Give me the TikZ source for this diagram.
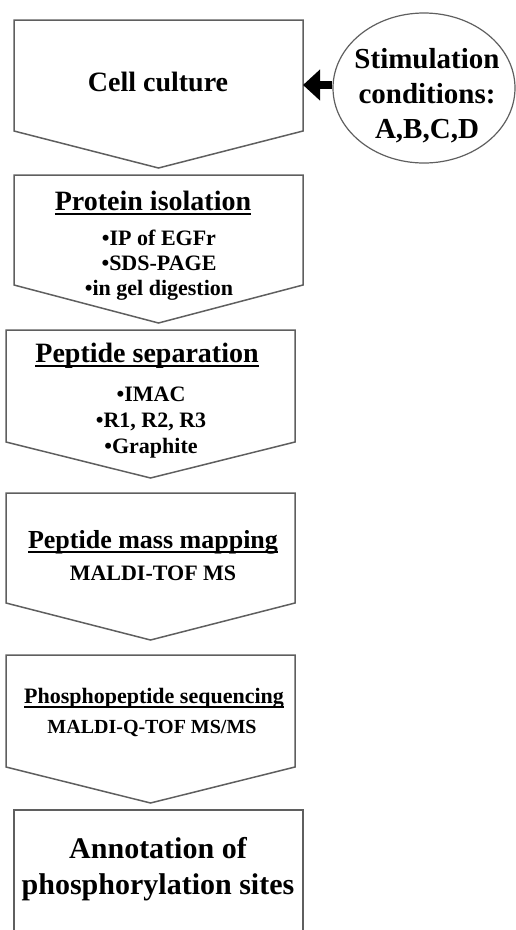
\documentclass[tikz,border=0pt]{standalone}
\usepackage{fontspec}
\setmainfont{Liberation Serif}
\usetikzlibrary{shapes.geometric}
\usetikzlibrary{arrows.meta}
\usetikzlibrary{positioning}

\definecolor{boxgray}{RGB}{95,95,95}
% thick underline for the step headings
\newcommand{\ulin}[1]{\setbox0\hbox{#1}\leavevmode\rlap{\rule[-5pt]{\wd0}{2.5pt}}\box0}

\tikzset{
  box/.style={draw=boxgray, line width=1.5pt, line join=miter},
  title/.style={font=\fontsize{28}{32}\selectfont\bfseries, inner sep=0pt, anchor=base},
  items/.style={font=\fontsize{22}{26}\selectfont\bfseries, inner sep=0pt, anchor=base},
}

\begin{document}
\begin{tikzpicture}[x=1pt, y=-1pt]
\useasboundingbox (0,0) rectangle (516,930);
\clip (0,0) rectangle (516,930);
% step boxes: left/right/top/side end/tip
\foreach \l/\r/\t/\s/\p in {14/303/20/131/168, 14/303/175/285/323, 6/295/330/442/478, 6/295/493/603/640, 6/295/655/767/803}
  \draw[box] (\l,\s) -- (\l,\t) -- (\r,\t) -- (\r,\s) -- ({(\l+\r)/2},\p) -- cycle;
\draw[box] (14,940) -- (14,810) -- (303,810) -- (303,940); % runs off the page

\node[title] (cell) at (158,91) {Cell culture};

\node[ellipse, draw=boxgray, line width=1.2pt, minimum width=182pt, minimum height=150pt, inner sep=0pt] (stim) at (424,88) {};
\foreach \txt [count=\i] in {Stimulation, conditions:, {A,B,C,D}}
  \node[title, font=\fontsize{29}{33}\selectfont\bfseries] (stim\i) at (427,33+35*\i) {\txt};
\coordinate (cellin) at (303,85);
\draw[line width=8pt, -{Triangle[length=17pt,width=30pt]}] (stim.west |- cellin) -- (cellin);

\node[title] (prot) at (153,210) {\ulin{Protein isolation}};
\foreach \txt [count=\i] in {•IP of EGFr, •SDS-PAGE, •in gel digestion}
  \node[items] (prot\i) at (159,220+25*\i) {\txt};

\node[title] (sep) at (147,362) {\ulin{Peptide separation}};
\foreach \txt [count=\i] in {•IMAC, {•R1, R2, R3}, •Graphite}
  \node[items] (sep\i) at (151,375+26*\i) {\txt};

\node[title, font=\fontsize{26}{30}\selectfont\bfseries] (pmm) at (153,548) {\ulin{Peptide mass mapping}};
\node[items] (tof) at (153,580) {MALDI-TOF MS};

\node[title, font=\fontsize{22}{26}\selectfont\bfseries] (seq) at (154,703) {\ulin{Phosphopeptide sequencing}};
\node[items, font=\fontsize{20}{24}\selectfont\bfseries] (qtof) at (152,733) {MALDI-Q-TOF MS/MS};

\node[title, font=\fontsize{30}{36}\selectfont\bfseries] (annot1) at (158,858) {Annotation of};
\node[title, font=\fontsize{30}{36}\selectfont\bfseries] (annot2) at (158,894) {phosphorylation sites};
\end{tikzpicture}
\end{document}
